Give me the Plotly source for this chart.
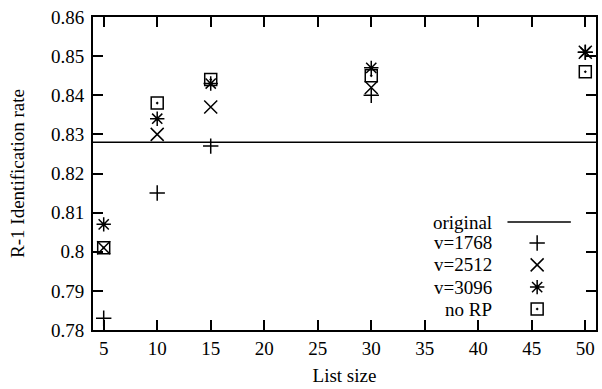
import plotly.graph_objects as go

list_sizes = [5, 10, 15, 30, 50]
v1768 = [0.783, 0.815, 0.827, 0.840, 0.851]
v2512 = [0.801, 0.830, 0.837, 0.842, 0.851]
v3096 = [0.807, 0.834, 0.843, 0.847, 0.851]
no_rp = [0.801, 0.838, 0.844, 0.845, 0.846]
original = 0.828

series_names = ["v=1768", "v=2512", "v=3096", "no RP"]
series_vals = [v1768, v2512, v3096, no_rp]
symbols = ["cross-thin-open", "x-thin-open", "asterisk-open", "square-open-dot"]
sizes = [11, 13, 12, 12]

x_ticks = [5, 10, 15, 20, 25, 30, 35, 40, 45, 50]
y_ticks = [0.78, 0.79, 0.80, 0.81, 0.82, 0.83, 0.84, 0.85, 0.86]
y_tick_text = ["0.78", "0.79", "0.8", "0.81", "0.82", "0.83", "0.84", "0.85", "0.86"]

X_RANGE = [4, 51]
Y_RANGE = [0.78, 0.86]

FONT = "Liberation Serif"
FS = 19

fig = go.Figure()

fig.add_trace(go.Scatter(x=X_RANGE, y=[original, original], mode="lines",
                         line=dict(color="black", width=1.5), showlegend=False))

for name, vals, sym, sz in zip(series_names, series_vals, symbols, sizes):
    fig.add_trace(go.Scatter(x=list_sizes, y=vals, mode="markers", name=name,
                             marker=dict(symbol=sym, size=sz, color="black",
                                         line=dict(color="black", width=1.5)),
                             showlegend=False))

# manual gnuplot-style legend (text left, sample right), placed in plot-area fractions
leg_rows = [0.345, 0.278, 0.208, 0.137, 0.067]
leg_labels = ["original"] + series_names
LEG_TEXT_X = 0.798
LEG_SYM_X = 0.883
LEG_LINE_X = (0.824, 0.95)


def fx(f):
    return X_RANGE[0] + f * (X_RANGE[1] - X_RANGE[0])


def fy(f):
    return Y_RANGE[0] + f * (Y_RANGE[1] - Y_RANGE[0])


fig.add_shape(type="line", xref="paper", yref="paper",
              x0=LEG_LINE_X[0], x1=LEG_LINE_X[1], y0=leg_rows[0], y1=leg_rows[0],
              line=dict(color="black", width=1.5))
for i, (sym, sz) in enumerate(zip(symbols, sizes)):
    fig.add_trace(go.Scatter(x=[fx(LEG_SYM_X)], y=[fy(leg_rows[i + 1])], mode="markers",
                             marker=dict(symbol=sym, size=sz, color="black",
                                         line=dict(color="black", width=1.5)),
                             showlegend=False, hoverinfo="skip"))
for lab, yy in zip(leg_labels, leg_rows):
    fig.add_annotation(x=LEG_TEXT_X, y=yy, xref="paper", yref="paper", text=lab,
                       showarrow=False, xanchor="right", yanchor="middle",
                       font=dict(family=FONT, size=FS, color="black"))

axis_common = dict(showgrid=False, zeroline=False, ticks="inside", ticklen=10,
                   tickwidth=1.5, tickcolor="black", showline=True, linecolor="black",
                   linewidth=2, mirror="allticks",
                   tickfont=dict(family=FONT, size=FS, color="black"))

fig.update_layout(
    width=602, height=389,
    margin=dict(l=93, r=4, t=17, b=59),
    paper_bgcolor="white", plot_bgcolor="white",
    xaxis=dict(range=X_RANGE, tickvals=x_ticks,
               title=dict(text="List size", font=dict(family=FONT, size=FS, color="black"),
                          standoff=11),
               **axis_common),
    yaxis=dict(range=Y_RANGE, tickvals=y_ticks, ticktext=y_tick_text,
               ticklabelstandoff=3,
               title=dict(text="R-1 Identification rate",
                          font=dict(family=FONT, size=FS, color="black"), standoff=21),
               **axis_common),
    showlegend=False,
)

fig.write_html("out.html", config={"displayModeBar": False},
               post_script="document.body.style.margin='0';")
